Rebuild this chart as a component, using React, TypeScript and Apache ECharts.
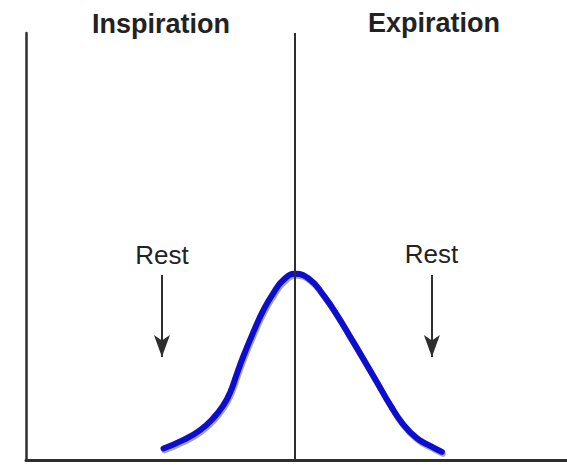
import React, { useEffect, useRef } from "react";
import * as echarts from "echarts";

// Flow curve (time relative to transition, relative flow)
const curveX = [
  -0.489, -0.415, -0.353, -0.304, -0.266, -0.241, -0.217, -0.192, -0.155, -0.118, -0.081, -0.043,
  0, 0.056, 0.105, 0.155, 0.204, 0.254, 0.304, 0.353, 0.402, 0.452, 0.502, 0.545,
];
const curveY = [
  2.7, 4.7, 7.0, 9.8, 12.9, 15.9, 20.1, 24.4, 30.0, 35.1, 39.1, 42.2,
  43.6, 42.2, 38.6, 34.0, 28.9, 23.6, 18.2, 12.9, 8.3, 5.1, 3.3, 1.9,
];

const phaseLabels = ["Inspiration", "Expiration"];
const restLabel = "Rest";
// rest arrows: x position, start y, end y
const restArrowX = [-0.495, 0.508];
const restArrowTop = 43.3;
const restArrowBottom = 24.1;

export default function App() {
  const ref = useRef<HTMLDivElement>(null);
  useEffect(() => {
    if (!ref.current) return;
    const chart = echarts.init(ref.current, null, { renderer: "svg" });
    const axisColor = "#2e2e2e";
    const textStyle = (text: string, font: string) => ({
      text,
      font,
      fill: "#222",
      textAlign: "center",
      textVerticalAlign: "middle",
    });
    chart.setOption({
      animation: false,
      backgroundColor: "#ffffff",
      grid: { left: 26, right: 0, top: 33, bottom: 5 },
      xAxis: {
        type: "value",
        min: -1,
        max: 1.01,
        axisLine: { show: true, onZero: false, lineStyle: { color: axisColor, width: 3 } },
        axisTick: { show: false },
        axisLabel: { show: false },
        splitLine: { show: false },
      },
      yAxis: {
        type: "value",
        min: 0,
        max: 100,
        axisLine: { show: true, onZero: false, lineStyle: { color: axisColor, width: 2.5 } },
        axisTick: { show: false },
        axisLabel: { show: false },
        splitLine: { show: false },
      },
      graphic: [
        { type: "text", x: 161, y: 24, style: textStyle(phaseLabels[0], "bold 27px 'Liberation Sans', Arial, sans-serif") },
        { type: "text", x: 434, y: 23, style: textStyle(phaseLabels[1], "bold 27px 'Liberation Sans', Arial, sans-serif") },
        { type: "text", x: 162, y: 255, style: textStyle(restLabel, "26px 'Liberation Sans', Arial, sans-serif") },
        { type: "text", x: 431.5, y: 254, style: textStyle(restLabel, "26px 'Liberation Sans', Arial, sans-serif") },
      ],
      series: [
        {
          type: "line",
          data: curveX.map((x, i) => [x, curveY[i]]),
          smooth: 0.5,
          showSymbol: false,
          symbol: "none",
          lineStyle: {
            color: "#0a0acd",
            width: 6,
            cap: "round",
            shadowColor: "rgba(0,0,0,0.35)",
            shadowOffsetX: 1,
            shadowOffsetY: 2,
            shadowBlur: 0,
          },
          markLine: {
            silent: true,
            symbol: ["none", "none"],
            label: { show: false },
            lineStyle: { color: axisColor, width: 2, type: "solid" },
            data: [
              { xAxis: 0 },
              ...restArrowX.map((x) => [
                { coord: [x, restArrowTop], symbol: "none" },
                { coord: [x, restArrowBottom], symbol: "arrow", symbolSize: [12, 22] },
              ]),
            ],
          },
        },
      ],
    });
    return () => chart.dispose();
  }, []);
  return (
    <div
      ref={ref}
      style={{ position: "fixed", left: 0, top: 0, width: 567, height: 465, background: "#fff" }}
    />
  );
}
